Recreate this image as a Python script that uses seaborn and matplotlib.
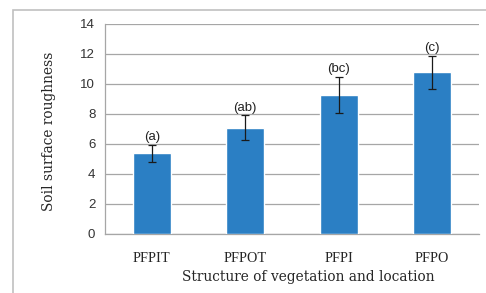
import pandas as pd
import seaborn as sns
import matplotlib.pyplot as plt
from matplotlib.patches import Rectangle

# values
structures = ['PFPIT', 'PFPOT', 'PFPI', 'PFPO']
roughness = [5.38, 7.07, 9.27, 10.78]
errors = [0.57, 0.83, 1.2, 1.1]
letters = ['(a)', '(ab)', '(bc)', '(c)']

df = pd.DataFrame({'structure': structures, 'roughness': roughness})

sns.set_style('white')
plt.rcParams['font.family'] = ['Liberation Serif', 'DejaVu Serif']

fig = plt.figure(figsize=(4.86, 2.93), dpi=100)
ax = fig.add_axes([0.216, 0.2014, 0.7696, 0.7168])

# chart border
fig.patches.append(Rectangle((13 / 486, -0.1), 1.2, 1 - 10 / 293 + 0.1,
                             transform=fig.transFigure, fill=False,
                             edgecolor='#c0c0c0', linewidth=1.2))

sns.barplot(data=df, x='structure', y='roughness', color='#2b7fc4',
            saturation=1, width=0.41, errorbar=None, ax=ax, zorder=3)
ax.errorbar(range(len(structures)), roughness, yerr=errors, fmt='none',
            ecolor='#1a1a1a', elinewidth=0.9, capsize=3, capthick=0.9, zorder=4)

for i, (v, e, t) in enumerate(zip(roughness, errors, letters)):
    ax.text(i, v + e + 0.1, t, ha='center', va='bottom', fontsize=9.5,
            family=['Liberation Sans', 'DejaVu Sans'], color='#222222')

ax.set_xlim(-0.5, 3.5)
ax.set_ylim(0, 14)
ax.set_yticks(range(0, 15, 2))
ax.yaxis.grid(True, color='#a6a6a6', linewidth=0.9, zorder=0)
ax.set_axisbelow(True)

for s in ['top', 'right']:
    ax.spines[s].set_visible(False)
for s in ['left', 'bottom']:
    ax.spines[s].set_color('#a6a6a6')
    ax.spines[s].set_linewidth(0.9)

ax.set_xticks([-0.5, 0.5, 1.5, 2.5, 3.5], minor=True)
ax.tick_params(axis='x', which='major', length=0, pad=13, labelsize=10.3)
ax.tick_params(axis='x', which='minor', length=5, color='#a6a6a6', width=0.9)
ax.tick_params(axis='y', length=4, color='#a6a6a6', width=0.9, pad=3)
for lab in ax.get_yticklabels():
    lab.set_family(['Liberation Sans', 'DejaVu Sans'])
    lab.set_fontsize(9.5)
    lab.set_color('#333333')

ax.set_xlabel('Structure of vegetation and location', fontsize=9.9,
              family=['DejaVu Serif'])
ax.xaxis.set_label_coords(0.544, -0.17)
ax.set_ylabel('Soil surface roughness', fontsize=9.9,
              family=['DejaVu Serif'])
ax.yaxis.set_label_coords(-0.13, 0.49)

fig.savefig('out.png', dpi=100)
